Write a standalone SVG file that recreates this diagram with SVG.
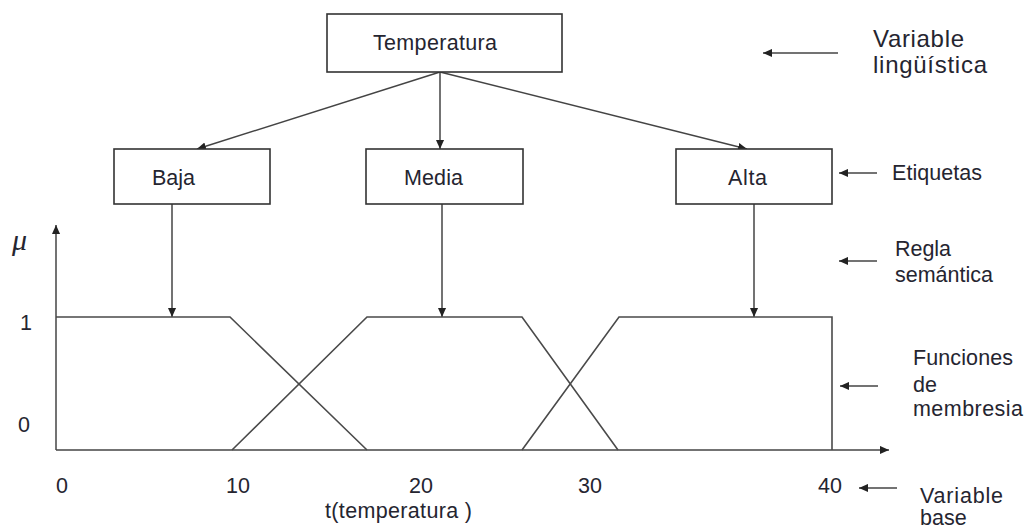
<svg xmlns="http://www.w3.org/2000/svg" width="1026" height="529" viewBox="0 0 1026 529">
<style>
text{font-family:"Liberation Sans",Arial,sans-serif;font-size:21.5px;fill:#252530}
.box{fill:#fff;stroke:#333;stroke-width:1.6}
.ln{fill:none;stroke:#4a4a4a;stroke-width:1.6}
.ar{fill:none;stroke:#444;stroke-width:1.5;marker-end:url(#ah)}
</style>
<defs>
<marker id="ah" viewBox="0 0 10 10" refX="10" refY="5" markerWidth="9" markerHeight="9" markerUnits="userSpaceOnUse" orient="auto"><path d="M0,0.5 L10,5 L0,9.5 Z" fill="#222"/></marker>
</defs>
<rect width="1026" height="529" fill="#fff"/>
<g id="connectors">
<line class="ar" x1="440" y1="72" x2="197" y2="149"/>
<line class="ar" x1="440" y1="72" x2="440" y2="149"/>
<line class="ar" x1="440" y1="72" x2="747" y2="149"/>
<line class="ar" x1="172" y1="204" x2="172" y2="317"/>
<line class="ar" x1="442" y1="204" x2="442" y2="317"/>
<line class="ar" x1="754" y1="204" x2="754" y2="317"/>
<line class="ar" x1="838" y1="53" x2="763" y2="53"/>
<line class="ar" x1="877" y1="173" x2="839" y2="173"/>
<line class="ar" x1="877" y1="261" x2="839" y2="261"/>
<line class="ar" x1="878" y1="386" x2="840" y2="386"/>
<line class="ar" x1="897" y1="488" x2="859" y2="488"/>
</g>
<g id="axes">
<line class="ar" x1="56" y1="450" x2="56" y2="225"/>
<line class="ar" x1="56" y1="450" x2="889" y2="450"/>
<text x="12" y="250" style="font-family:'Liberation Serif',serif;font-style:italic;font-size:30px">μ</text>
<text x="20" y="330">1</text>
<text x="18" y="432">0</text>
<text x="56" y="493">0</text>
<text x="226" y="493">10</text>
<text x="409" y="493">20</text>
<text x="578" y="493">30</text>
<text x="818" y="493">40</text>
<text x="325" y="518" textLength="147">t(temperatura )</text>
</g>
<g id="membership">
<polyline class="ln" points="56,317 230,317 367,450"/>
<polyline class="ln" points="232,450 367,317 522,317 618,450"/>
<polyline class="ln" points="522,450 619,317 832,317 832,450"/>
</g>
<g id="temperatura"><rect class="box" x="327" y="14" width="235" height="58"/><text x="373" y="50" textLength="124">Temperatura</text></g>
<g id="baja"><rect class="box" x="114" y="149" width="156" height="55"/><text x="152" y="185" textLength="43">Baja</text></g>
<g id="media"><rect class="box" x="366" y="149" width="157" height="55"/><text x="404" y="185" textLength="59">Media</text></g>
<g id="alta"><rect class="box" x="676" y="149" width="156" height="55"/><text x="728" y="185" textLength="39">Alta</text></g>
<g id="labels">
<text x="873" y="47" style="font-size:24px" textLength="91">Variable</text>
<text x="873" y="73" style="font-size:24px" textLength="114">lingüística</text>
<text x="892" y="180" textLength="90">Etiquetas</text>
<text x="895" y="256" textLength="56">Regla</text>
<text x="895" y="282" textLength="98">semántica</text>
<text x="913" y="365" textLength="100">Funciones</text>
<text x="913" y="392">de</text>
<text x="913" y="416" textLength="110">membresia</text>
<text x="920" y="503" textLength="83">Variable</text>
<text x="920" y="525">base</text>
</g>
</svg>
